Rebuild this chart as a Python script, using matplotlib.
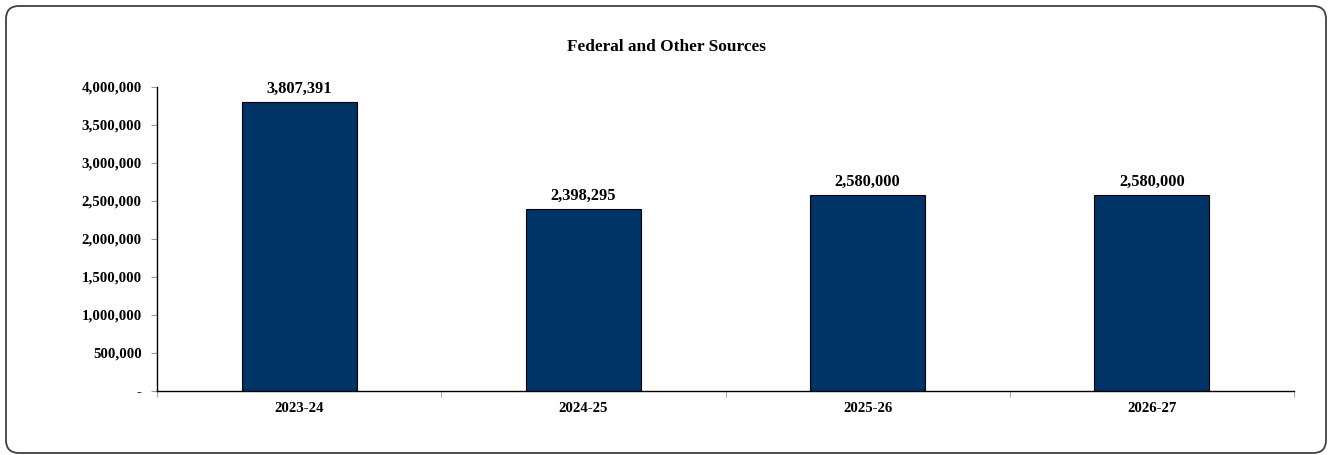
import numpy as np
import matplotlib.pyplot as plt
from matplotlib.patches import FancyBboxPatch
from matplotlib.ticker import FuncFormatter, FixedLocator

# Данные
years = ['2023-24', '2024-25', '2025-26', '2026-27']
amounts = [3807391, 2398295, 2580000, 2580000]
y_ticks = [0, 500000, 1000000, 1500000, 2000000, 2500000, 3000000, 3500000, 4000000]

plt.rcParams['font.family'] = ['Liberation Serif', 'DejaVu Serif']
plt.rcParams['font.weight'] = 'bold'

fig = plt.figure(figsize=(13.32, 4.55), dpi=100)

# рамка со скруглёнными углами (в пикселях)
frame = FancyBboxPatch((6, 2), 1320, 447,
                       boxstyle='round,pad=0,rounding_size=13',
                       transform=None, fill=False,
                       edgecolor='#404040', linewidth=1.3)
fig.patches.append(frame)

ax = fig.add_axes([157 / 1332, 1 - 391 / 455, (1294 - 157) / 1332, (391 - 87) / 455])

x = np.arange(len(years))
ax.bar(x, amounts, width=0.405, color='#003366', edgecolor='black', linewidth=0.8)

for xi, v in zip(x, amounts):
    ax.text(xi, v + 60000, f'{v:,}', ha='center', va='bottom',
            fontsize=11.8, fontweight='bold')

ax.set_xlim(-0.5, len(years) - 0.5)
ax.set_ylim(0, 4000000)
ax.set_yticks(y_ticks)
ax.yaxis.set_major_formatter(FuncFormatter(lambda v, p: '-' if v == 0 else f'{int(v):,}'))
ax.set_xticks(x)
ax.set_xticklabels(years)
ax.xaxis.set_minor_locator(FixedLocator(np.arange(-0.5, len(years), 1)))

ax.tick_params(axis='x', which='major', length=0, pad=8, labelsize=10.7)
ax.tick_params(axis='x', which='minor', length=4, color='#999999')
ax.tick_params(axis='y', length=4, color='#999999', pad=7, labelsize=10.7)

for lbl in ax.get_xticklabels() + ax.get_yticklabels():
    lbl.set_fontweight('bold')

ax.spines['top'].set_visible(False)
ax.spines['right'].set_visible(False)
ax.spines['left'].set_linewidth(1)
ax.spines['bottom'].set_linewidth(1)

fig.text(0.5, 1 - 47 / 455, 'Federal and Other Sources', ha='center', va='center',
         fontsize=12.4, fontweight='bold')

fig.savefig('out.png', dpi=100)
